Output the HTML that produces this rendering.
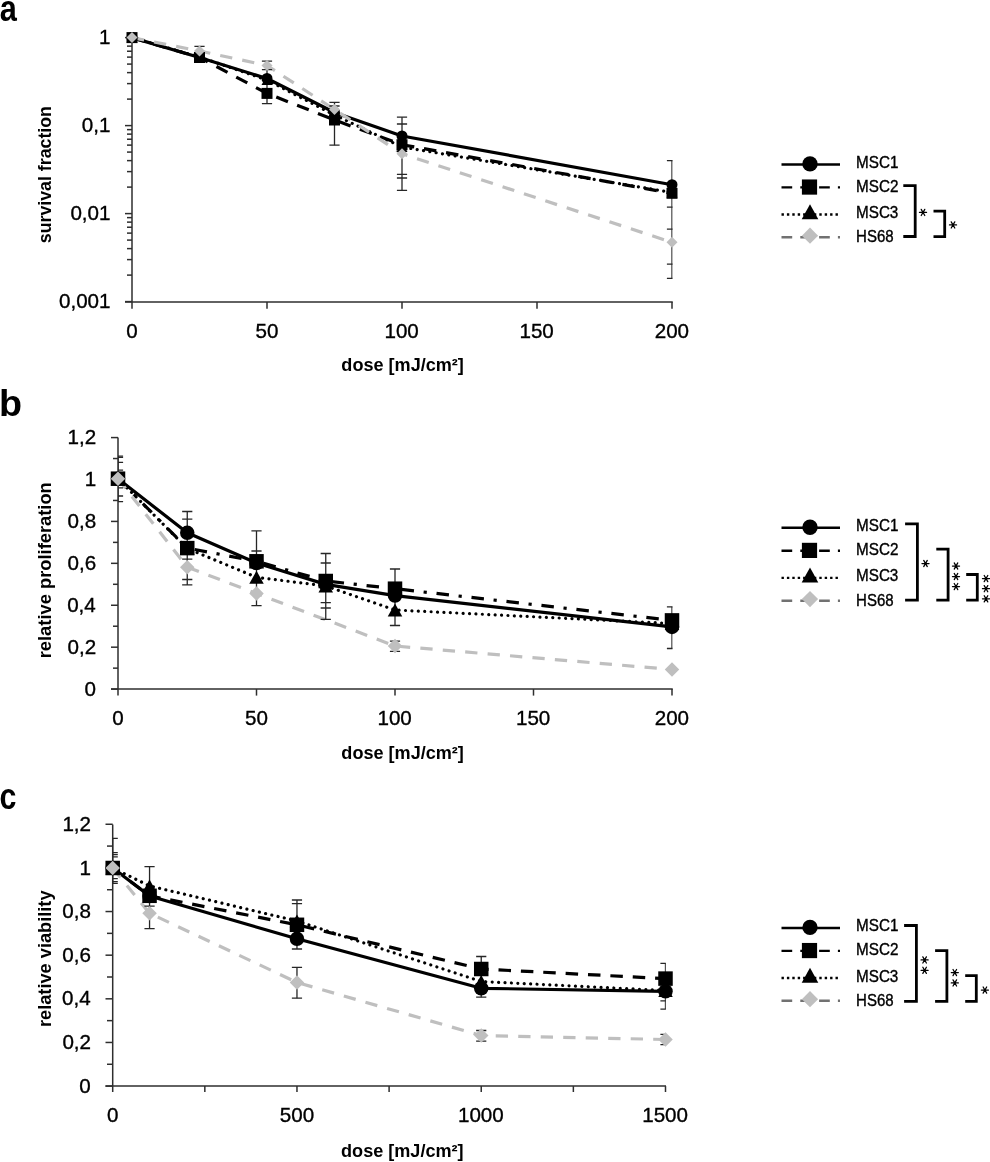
<!DOCTYPE html><html><head><meta charset="utf-8"><style>html,body{margin:0;padding:0;background:#fff;overflow:hidden;width:990px;height:1162px;}svg{display:block;filter:grayscale(1);}text{font-family:"Liberation Sans", sans-serif;}</style></head><body>
<svg width="990" height="1162" viewBox="0 0 990 1162">
<rect width="990" height="1162" fill="#fff"/>
<defs>
<clipPath id="ca"><rect x="132" y="0" width="540.5" height="303"/></clipPath>
<clipPath id="cb"><rect x="118" y="437" width="554.5" height="252"/></clipPath>
<clipPath id="cc"><rect x="112.7" y="824" width="553.1" height="262.5"/></clipPath>
</defs>
<text transform="translate(-0.30,20.60) scale(0.8158,1)" font-size="37.70" font-weight="bold" fill="#000">a</text>
<line x1="132.00" y1="37.60" x2="132.00" y2="308.80" stroke="#2e2e2e" stroke-width="1.5" />
<line x1="125.00" y1="302.00" x2="672.75" y2="302.00" stroke="#2e2e2e" stroke-width="1.5" />
<line x1="125.00" y1="37.60" x2="132.00" y2="37.60" stroke="#2e2e2e" stroke-width="1.5" />
<line x1="127.00" y1="99.11" x2="132.00" y2="99.11" stroke="#2e2e2e" stroke-width="1.5" />
<line x1="127.00" y1="83.61" x2="132.00" y2="83.61" stroke="#2e2e2e" stroke-width="1.5" />
<line x1="127.00" y1="72.62" x2="132.00" y2="72.62" stroke="#2e2e2e" stroke-width="1.5" />
<line x1="127.00" y1="64.09" x2="132.00" y2="64.09" stroke="#2e2e2e" stroke-width="1.5" />
<line x1="127.00" y1="57.12" x2="132.00" y2="57.12" stroke="#2e2e2e" stroke-width="1.5" />
<line x1="127.00" y1="51.23" x2="132.00" y2="51.23" stroke="#2e2e2e" stroke-width="1.5" />
<line x1="127.00" y1="46.13" x2="132.00" y2="46.13" stroke="#2e2e2e" stroke-width="1.5" />
<line x1="127.00" y1="41.63" x2="132.00" y2="41.63" stroke="#2e2e2e" stroke-width="1.5" />
<line x1="125.00" y1="125.60" x2="132.00" y2="125.60" stroke="#2e2e2e" stroke-width="1.5" />
<line x1="127.00" y1="187.11" x2="132.00" y2="187.11" stroke="#2e2e2e" stroke-width="1.5" />
<line x1="127.00" y1="171.61" x2="132.00" y2="171.61" stroke="#2e2e2e" stroke-width="1.5" />
<line x1="127.00" y1="160.62" x2="132.00" y2="160.62" stroke="#2e2e2e" stroke-width="1.5" />
<line x1="127.00" y1="152.09" x2="132.00" y2="152.09" stroke="#2e2e2e" stroke-width="1.5" />
<line x1="127.00" y1="145.12" x2="132.00" y2="145.12" stroke="#2e2e2e" stroke-width="1.5" />
<line x1="127.00" y1="139.23" x2="132.00" y2="139.23" stroke="#2e2e2e" stroke-width="1.5" />
<line x1="127.00" y1="134.13" x2="132.00" y2="134.13" stroke="#2e2e2e" stroke-width="1.5" />
<line x1="127.00" y1="129.63" x2="132.00" y2="129.63" stroke="#2e2e2e" stroke-width="1.5" />
<line x1="125.00" y1="213.60" x2="132.00" y2="213.60" stroke="#2e2e2e" stroke-width="1.5" />
<line x1="127.00" y1="275.11" x2="132.00" y2="275.11" stroke="#2e2e2e" stroke-width="1.5" />
<line x1="127.00" y1="259.61" x2="132.00" y2="259.61" stroke="#2e2e2e" stroke-width="1.5" />
<line x1="127.00" y1="248.62" x2="132.00" y2="248.62" stroke="#2e2e2e" stroke-width="1.5" />
<line x1="127.00" y1="240.09" x2="132.00" y2="240.09" stroke="#2e2e2e" stroke-width="1.5" />
<line x1="127.00" y1="233.12" x2="132.00" y2="233.12" stroke="#2e2e2e" stroke-width="1.5" />
<line x1="127.00" y1="227.23" x2="132.00" y2="227.23" stroke="#2e2e2e" stroke-width="1.5" />
<line x1="127.00" y1="222.13" x2="132.00" y2="222.13" stroke="#2e2e2e" stroke-width="1.5" />
<line x1="127.00" y1="217.63" x2="132.00" y2="217.63" stroke="#2e2e2e" stroke-width="1.5" />
<line x1="125.00" y1="301.60" x2="132.00" y2="301.60" stroke="#2e2e2e" stroke-width="1.5" />
<line x1="267.00" y1="302.00" x2="267.00" y2="308.80" stroke="#2e2e2e" stroke-width="1.5" />
<line x1="402.00" y1="302.00" x2="402.00" y2="308.80" stroke="#2e2e2e" stroke-width="1.5" />
<line x1="537.00" y1="302.00" x2="537.00" y2="308.80" stroke="#2e2e2e" stroke-width="1.5" />
<line x1="672.00" y1="302.00" x2="672.00" y2="308.80" stroke="#2e2e2e" stroke-width="1.5" />
<text transform="translate(99.05,44.20) scale(1.0000,1)" font-size="20.60" font-weight="normal" fill="#000" stroke="#000" stroke-width="0.35">1</text>
<text transform="translate(81.87,132.20) scale(1.0000,1)" font-size="20.60" font-weight="normal" fill="#000" stroke="#000" stroke-width="0.35">0,1</text>
<text transform="translate(70.41,220.20) scale(1.0000,1)" font-size="20.60" font-weight="normal" fill="#000" stroke="#000" stroke-width="0.35">0,01</text>
<text transform="translate(58.96,308.20) scale(1.0000,1)" font-size="20.60" font-weight="normal" fill="#000" stroke="#000" stroke-width="0.35">0,001</text>
<text transform="translate(126.27,338.10) scale(1.0000,1)" font-size="20.60" font-weight="normal" fill="#000" stroke="#000" stroke-width="0.35">0</text>
<text transform="translate(255.53,338.10) scale(1.0000,1)" font-size="20.60" font-weight="normal" fill="#000" stroke="#000" stroke-width="0.35">50</text>
<text transform="translate(384.43,338.10) scale(1.0000,1)" font-size="20.60" font-weight="normal" fill="#000" stroke="#000" stroke-width="0.35">100</text>
<text transform="translate(519.43,338.10) scale(1.0000,1)" font-size="20.60" font-weight="normal" fill="#000" stroke="#000" stroke-width="0.35">150</text>
<text transform="translate(654.70,338.10) scale(1.0000,1)" font-size="20.60" font-weight="normal" fill="#000" stroke="#000" stroke-width="0.35">200</text>
<text transform="translate(341.36,371.30) scale(0.9996,1)" font-size="18.10" font-weight="bold" fill="#000">dose [mJ/cm²]</text>
<text transform="translate(50.80,243.22) rotate(-90) scale(0.9821,1)" font-size="18.10" font-weight="bold">survival fraction</text>
<polyline points="132.00,37.60 199.50,57.50 267.00,78.50 334.50,112.50 402.00,136.00 672.00,184.70" fill="none" stroke="#000" stroke-width="3.2" stroke-linecap="butt" stroke-linejoin="round" />
<polyline points="132.00,37.60 199.50,57.50 267.00,93.40 334.50,120.00 402.00,144.70 672.00,193.30" fill="none" stroke="#000" stroke-width="3.2" stroke-linecap="butt" stroke-linejoin="round" stroke-dasharray="12.5 9.9" />
<polyline points="132.00,37.60 199.50,57.00 267.00,80.00 334.50,115.00 402.00,147.00 672.00,192.50" fill="none" stroke="#000" stroke-width="3.2" stroke-linecap="round" stroke-linejoin="round" stroke-dasharray="0.01 6.4" />
<polyline points="132.00,37.60 199.50,51.00 267.00,65.50 334.50,109.50 402.00,153.80 672.00,242.30" fill="none" stroke="#bfbfbf" stroke-width="3.2" stroke-linecap="butt" stroke-linejoin="round" stroke-dasharray="12.3 10.2" />
<g clip-path="url(#ca)">
<line x1="199.50" y1="46.30" x2="199.50" y2="56.00" stroke="#262626" stroke-width="1.3" />
<line x1="194.40" y1="46.30" x2="204.60" y2="46.30" stroke="#262626" stroke-width="1.3" />
</g>
<g clip-path="url(#ca)">
<line x1="267.00" y1="61.20" x2="267.00" y2="103.60" stroke="#262626" stroke-width="1.3" />
<line x1="261.90" y1="61.20" x2="272.10" y2="61.20" stroke="#262626" stroke-width="1.3" />
<line x1="261.90" y1="69.70" x2="272.10" y2="69.70" stroke="#262626" stroke-width="1.3" />
<line x1="261.90" y1="103.60" x2="272.10" y2="103.60" stroke="#262626" stroke-width="1.3" />
</g>
<g clip-path="url(#ca)">
<line x1="334.50" y1="102.40" x2="334.50" y2="145.20" stroke="#262626" stroke-width="1.3" />
<line x1="329.40" y1="102.40" x2="339.60" y2="102.40" stroke="#262626" stroke-width="1.3" />
<line x1="329.40" y1="106.00" x2="339.60" y2="106.00" stroke="#262626" stroke-width="1.3" />
<line x1="329.40" y1="145.20" x2="339.60" y2="145.20" stroke="#262626" stroke-width="1.3" />
</g>
<g clip-path="url(#ca)">
<line x1="402.00" y1="117.20" x2="402.00" y2="190.40" stroke="#262626" stroke-width="1.3" />
<line x1="396.90" y1="117.20" x2="407.10" y2="117.20" stroke="#262626" stroke-width="1.3" />
<line x1="396.90" y1="124.00" x2="407.10" y2="124.00" stroke="#262626" stroke-width="1.3" />
<line x1="396.90" y1="174.40" x2="407.10" y2="174.40" stroke="#262626" stroke-width="1.3" />
<line x1="396.90" y1="178.00" x2="407.10" y2="178.00" stroke="#262626" stroke-width="1.3" />
<line x1="396.90" y1="190.40" x2="407.10" y2="190.40" stroke="#262626" stroke-width="1.3" />
</g>
<g clip-path="url(#ca)">
<line x1="672.00" y1="160.60" x2="672.00" y2="278.30" stroke="#262626" stroke-width="1.3" />
<line x1="666.90" y1="160.60" x2="677.10" y2="160.60" stroke="#262626" stroke-width="1.3" />
<line x1="666.90" y1="207.20" x2="677.10" y2="207.20" stroke="#262626" stroke-width="1.3" />
<line x1="666.90" y1="229.20" x2="677.10" y2="229.20" stroke="#262626" stroke-width="1.3" />
<line x1="666.90" y1="264.20" x2="677.10" y2="264.20" stroke="#262626" stroke-width="1.3" />
<line x1="666.90" y1="278.30" x2="677.10" y2="278.30" stroke="#262626" stroke-width="1.3" />
</g>
<circle cx="132.00" cy="37.60" r="5.50" fill="#000"/>
<circle cx="199.50" cy="57.50" r="5.50" fill="#000"/>
<circle cx="267.00" cy="78.50" r="5.50" fill="#000"/>
<circle cx="334.50" cy="112.50" r="5.50" fill="#000"/>
<circle cx="402.00" cy="136.00" r="5.50" fill="#000"/>
<circle cx="672.00" cy="184.70" r="5.50" fill="#000"/>
<rect x="126.50" y="32.10" width="11.00" height="11.00" fill="#000"/>
<rect x="194.00" y="52.00" width="11.00" height="11.00" fill="#000"/>
<rect x="261.50" y="87.90" width="11.00" height="11.00" fill="#000"/>
<rect x="329.00" y="114.50" width="11.00" height="11.00" fill="#000"/>
<rect x="396.50" y="139.20" width="11.00" height="11.00" fill="#000"/>
<rect x="666.50" y="187.80" width="11.00" height="11.00" fill="#000"/>
<polygon points="132.00,32.65 137.50,42.55 126.50,42.55" fill="#000"/>
<polygon points="199.50,52.05 205.00,61.95 194.00,61.95" fill="#000"/>
<polygon points="267.00,75.05 272.50,84.95 261.50,84.95" fill="#000"/>
<polygon points="334.50,110.05 340.00,119.95 329.00,119.95" fill="#000"/>
<polygon points="402.00,142.05 407.50,151.95 396.50,151.95" fill="#000"/>
<polygon points="672.00,187.55 677.50,197.45 666.50,197.45" fill="#000"/>
<polygon points="132.00,32.10 137.50,37.60 132.00,43.10 126.50,37.60" fill="#bfbfbf"/>
<polygon points="199.50,45.50 205.00,51.00 199.50,56.50 194.00,51.00" fill="#bfbfbf"/>
<polygon points="267.00,60.00 272.50,65.50 267.00,71.00 261.50,65.50" fill="#bfbfbf"/>
<polygon points="334.50,104.00 340.00,109.50 334.50,115.00 329.00,109.50" fill="#bfbfbf"/>
<polygon points="402.00,148.30 407.50,153.80 402.00,159.30 396.50,153.80" fill="#bfbfbf"/>
<polygon points="672.00,236.80 677.50,242.30 672.00,247.80 666.50,242.30" fill="#bfbfbf"/>
<line x1="781.50" y1="164.45" x2="840.00" y2="164.45" stroke="#000" stroke-width="2.4" />
<circle cx="810.00" cy="163.90" r="7.70" fill="#000"/>
<text transform="translate(856.05,167.80) scale(0.9537,1)" font-size="16.00" font-weight="normal" fill="#000" stroke="#000" stroke-width="0.35">MSC1</text>
<line x1="781.50" y1="187.40" x2="840.00" y2="187.40" stroke="#000" stroke-width="2.4" stroke-dasharray="10.7 8.1"/>
<rect x="801.90" y="179.45" width="15.20" height="15.20" fill="#000"/>
<text transform="translate(856.05,191.90) scale(0.9543,1)" font-size="16.00" font-weight="normal" fill="#000" stroke="#000" stroke-width="0.35">MSC2</text>
<line x1="781.50" y1="214.50" x2="840.00" y2="214.50" stroke="#000" stroke-width="2.4" stroke-dasharray="2.4 3.0"/>
<polygon points="810,204.15 818.3,219.15 801.7,219.15" fill="#000"/>
<text transform="translate(856.05,218.00) scale(0.9520,1)" font-size="16.00" font-weight="normal" fill="#000" stroke="#000" stroke-width="0.35">MSC3</text>
<line x1="781.50" y1="237.30" x2="840.00" y2="237.30" stroke="#717171" stroke-width="2.5" stroke-dasharray="10.7 8.1"/>
<polygon points="810.00,227.60 818.10,235.70 810.00,243.80 801.90,235.70" fill="#bfbfbf"/>
<text transform="translate(856.07,242.40) scale(0.9391,1)" font-size="16.00" font-weight="normal" fill="#000" stroke="#000" stroke-width="0.35">HS68</text>
<polyline points="903.30,185.60 915.20,185.60 915.20,236.50 903.30,236.50" fill="none" stroke="#000" stroke-width="2.8" stroke-linejoin="miter"/>
<path d="M919.45,212.40L926.55,212.40M921.23,209.33L924.77,215.47M924.77,209.33L921.23,215.47" stroke="#000" stroke-width="1.25" stroke-linecap="round" fill="none"/>
<circle cx="923.00" cy="212.40" r="1.1" fill="#000"/>
<polyline points="933.50,211.10 944.70,211.10 944.70,236.60 933.50,236.60" fill="none" stroke="#000" stroke-width="2.8" stroke-linejoin="miter"/>
<path d="M949.45,224.90L956.55,224.90M951.23,221.83L954.77,227.97M954.77,221.83L951.23,227.97" stroke="#000" stroke-width="1.25" stroke-linecap="round" fill="none"/>
<circle cx="953.00" cy="224.90" r="1.1" fill="#000"/>
<text transform="translate(-1.09,415.50) scale(1.0274,1)" font-size="36.70" font-weight="bold" fill="#000">b</text>
<line x1="118.00" y1="437.60" x2="118.00" y2="695.60" stroke="#2e2e2e" stroke-width="1.5" />
<line x1="111.00" y1="689.10" x2="672.75" y2="689.10" stroke="#2e2e2e" stroke-width="1.5" />
<line x1="111.00" y1="689.10" x2="118.00" y2="689.10" stroke="#2e2e2e" stroke-width="1.5" />
<line x1="111.00" y1="647.18" x2="118.00" y2="647.18" stroke="#2e2e2e" stroke-width="1.5" />
<line x1="111.00" y1="605.26" x2="118.00" y2="605.26" stroke="#2e2e2e" stroke-width="1.5" />
<line x1="111.00" y1="563.34" x2="118.00" y2="563.34" stroke="#2e2e2e" stroke-width="1.5" />
<line x1="111.00" y1="521.42" x2="118.00" y2="521.42" stroke="#2e2e2e" stroke-width="1.5" />
<line x1="111.00" y1="479.50" x2="118.00" y2="479.50" stroke="#2e2e2e" stroke-width="1.5" />
<line x1="111.00" y1="437.58" x2="118.00" y2="437.58" stroke="#2e2e2e" stroke-width="1.5" />
<line x1="113.00" y1="668.14" x2="118.00" y2="668.14" stroke="#2e2e2e" stroke-width="1.5" />
<line x1="113.00" y1="626.22" x2="118.00" y2="626.22" stroke="#2e2e2e" stroke-width="1.5" />
<line x1="113.00" y1="584.30" x2="118.00" y2="584.30" stroke="#2e2e2e" stroke-width="1.5" />
<line x1="113.00" y1="542.38" x2="118.00" y2="542.38" stroke="#2e2e2e" stroke-width="1.5" />
<line x1="113.00" y1="500.46" x2="118.00" y2="500.46" stroke="#2e2e2e" stroke-width="1.5" />
<line x1="113.00" y1="458.54" x2="118.00" y2="458.54" stroke="#2e2e2e" stroke-width="1.5" />
<line x1="256.50" y1="689.10" x2="256.50" y2="695.60" stroke="#2e2e2e" stroke-width="1.5" />
<line x1="395.00" y1="689.10" x2="395.00" y2="695.60" stroke="#2e2e2e" stroke-width="1.5" />
<line x1="533.50" y1="689.10" x2="533.50" y2="695.60" stroke="#2e2e2e" stroke-width="1.5" />
<line x1="672.00" y1="689.10" x2="672.00" y2="695.60" stroke="#2e2e2e" stroke-width="1.5" />
<text transform="translate(67.60,443.98) scale(1.0000,1)" font-size="20.60" font-weight="normal" fill="#000" stroke="#000" stroke-width="0.35">1,2</text>
<text transform="translate(84.75,485.90) scale(1.0000,1)" font-size="20.60" font-weight="normal" fill="#000" stroke="#000" stroke-width="0.35">1</text>
<text transform="translate(67.46,527.82) scale(1.0000,1)" font-size="20.60" font-weight="normal" fill="#000" stroke="#000" stroke-width="0.35">0,8</text>
<text transform="translate(67.47,569.74) scale(1.0000,1)" font-size="20.60" font-weight="normal" fill="#000" stroke="#000" stroke-width="0.35">0,6</text>
<text transform="translate(67.17,611.66) scale(1.0000,1)" font-size="20.60" font-weight="normal" fill="#000" stroke="#000" stroke-width="0.35">0,4</text>
<text transform="translate(67.60,653.58) scale(1.0000,1)" font-size="20.60" font-weight="normal" fill="#000" stroke="#000" stroke-width="0.35">0,2</text>
<text transform="translate(84.55,695.50) scale(1.0000,1)" font-size="20.60" font-weight="normal" fill="#000" stroke="#000" stroke-width="0.35">0</text>
<text transform="translate(112.27,724.80) scale(1.0000,1)" font-size="20.60" font-weight="normal" fill="#000" stroke="#000" stroke-width="0.35">0</text>
<text transform="translate(245.03,724.80) scale(1.0000,1)" font-size="20.60" font-weight="normal" fill="#000" stroke="#000" stroke-width="0.35">50</text>
<text transform="translate(377.43,724.80) scale(1.0000,1)" font-size="20.60" font-weight="normal" fill="#000" stroke="#000" stroke-width="0.35">100</text>
<text transform="translate(515.93,724.80) scale(1.0000,1)" font-size="20.60" font-weight="normal" fill="#000" stroke="#000" stroke-width="0.35">150</text>
<text transform="translate(654.70,724.80) scale(1.0000,1)" font-size="20.60" font-weight="normal" fill="#000" stroke="#000" stroke-width="0.35">200</text>
<text transform="translate(341.36,758.90) scale(0.9996,1)" font-size="18.10" font-weight="bold" fill="#000">dose [mJ/cm²]</text>
<text transform="translate(51.10,658.31) rotate(-90) scale(1.0129,1)" font-size="18.10" font-weight="bold">relative proliferation</text>
<polyline points="118.00,478.70 187.25,532.80 256.50,563.00 325.75,584.40 395.00,595.60 672.00,626.90" fill="none" stroke="#000" stroke-width="3.2" stroke-linecap="butt" stroke-linejoin="round" />
<polyline points="118.00,478.70 187.25,548.10 256.50,561.30 325.75,581.00 395.00,588.70 672.00,620.40" fill="none" stroke="#000" stroke-width="3.2" stroke-linecap="butt" stroke-linejoin="round" stroke-dasharray="12.5 9.7 3.2 9.8" />
<polyline points="118.00,478.70 187.25,548.50 256.50,577.30 325.75,586.00 395.00,610.00 672.00,623.50" fill="none" stroke="#000" stroke-width="3.2" stroke-linecap="round" stroke-linejoin="round" stroke-dasharray="0.01 6.4" />
<polyline points="118.00,478.70 187.25,567.20 256.50,593.50 395.00,646.00 672.00,669.50" fill="none" stroke="#bfbfbf" stroke-width="3.2" stroke-linecap="butt" stroke-linejoin="round" stroke-dasharray="12.3 10.2" />
<g clip-path="url(#cb)">
<line x1="118.00" y1="456.20" x2="118.00" y2="501.60" stroke="#262626" stroke-width="1.3" />
<line x1="112.90" y1="456.20" x2="123.10" y2="456.20" stroke="#262626" stroke-width="1.3" />
<line x1="112.90" y1="457.40" x2="123.10" y2="457.40" stroke="#262626" stroke-width="1.3" />
<line x1="112.90" y1="462.30" x2="123.10" y2="462.30" stroke="#262626" stroke-width="1.3" />
<line x1="112.90" y1="470.10" x2="123.10" y2="470.10" stroke="#262626" stroke-width="1.3" />
<line x1="112.90" y1="487.90" x2="123.10" y2="487.90" stroke="#262626" stroke-width="1.3" />
<line x1="112.90" y1="496.00" x2="123.10" y2="496.00" stroke="#262626" stroke-width="1.3" />
<line x1="112.90" y1="501.60" x2="123.10" y2="501.60" stroke="#262626" stroke-width="1.3" />
</g>
<g clip-path="url(#cb)">
<line x1="187.25" y1="511.50" x2="187.25" y2="584.90" stroke="#262626" stroke-width="1.3" />
<line x1="182.15" y1="511.50" x2="192.35" y2="511.50" stroke="#262626" stroke-width="1.3" />
<line x1="182.15" y1="519.10" x2="192.35" y2="519.10" stroke="#262626" stroke-width="1.3" />
<line x1="182.15" y1="559.10" x2="192.35" y2="559.10" stroke="#262626" stroke-width="1.3" />
<line x1="182.15" y1="579.50" x2="192.35" y2="579.50" stroke="#262626" stroke-width="1.3" />
<line x1="182.15" y1="584.90" x2="192.35" y2="584.90" stroke="#262626" stroke-width="1.3" />
</g>
<g clip-path="url(#cb)">
<line x1="256.50" y1="530.90" x2="256.50" y2="605.60" stroke="#262626" stroke-width="1.3" />
<line x1="251.40" y1="530.90" x2="261.60" y2="530.90" stroke="#262626" stroke-width="1.3" />
<line x1="251.40" y1="551.00" x2="261.60" y2="551.00" stroke="#262626" stroke-width="1.3" />
<line x1="251.40" y1="605.60" x2="261.60" y2="605.60" stroke="#262626" stroke-width="1.3" />
</g>
<g clip-path="url(#cb)">
<line x1="325.75" y1="553.50" x2="325.75" y2="619.30" stroke="#262626" stroke-width="1.3" />
<line x1="320.65" y1="553.50" x2="330.85" y2="553.50" stroke="#262626" stroke-width="1.3" />
<line x1="320.65" y1="563.00" x2="330.85" y2="563.00" stroke="#262626" stroke-width="1.3" />
<line x1="320.65" y1="602.60" x2="330.85" y2="602.60" stroke="#262626" stroke-width="1.3" />
<line x1="320.65" y1="608.00" x2="330.85" y2="608.00" stroke="#262626" stroke-width="1.3" />
<line x1="320.65" y1="619.30" x2="330.85" y2="619.30" stroke="#262626" stroke-width="1.3" />
</g>
<g clip-path="url(#cb)">
<line x1="395.00" y1="569.00" x2="395.00" y2="625.50" stroke="#262626" stroke-width="1.3" />
<line x1="395.00" y1="641.10" x2="395.00" y2="651.40" stroke="#262626" stroke-width="1.3" />
<line x1="389.90" y1="569.00" x2="400.10" y2="569.00" stroke="#262626" stroke-width="1.3" />
<line x1="389.90" y1="625.50" x2="400.10" y2="625.50" stroke="#262626" stroke-width="1.3" />
<line x1="389.90" y1="641.10" x2="400.10" y2="641.10" stroke="#262626" stroke-width="1.3" />
<line x1="389.90" y1="651.40" x2="400.10" y2="651.40" stroke="#262626" stroke-width="1.3" />
</g>
<g clip-path="url(#cb)">
<line x1="672.00" y1="606.80" x2="672.00" y2="648.50" stroke="#262626" stroke-width="1.3" />
<line x1="666.90" y1="606.80" x2="677.10" y2="606.80" stroke="#262626" stroke-width="1.3" />
<line x1="666.90" y1="648.50" x2="677.10" y2="648.50" stroke="#262626" stroke-width="1.3" />
</g>
<circle cx="118.00" cy="478.70" r="7.25" fill="#000"/>
<circle cx="187.25" cy="532.80" r="7.25" fill="#000"/>
<circle cx="256.50" cy="563.00" r="7.25" fill="#000"/>
<circle cx="325.75" cy="584.40" r="7.25" fill="#000"/>
<circle cx="395.00" cy="595.60" r="7.25" fill="#000"/>
<circle cx="672.00" cy="626.90" r="7.25" fill="#000"/>
<rect x="110.75" y="471.45" width="14.50" height="14.50" fill="#000"/>
<rect x="180.00" y="540.85" width="14.50" height="14.50" fill="#000"/>
<rect x="249.25" y="554.05" width="14.50" height="14.50" fill="#000"/>
<rect x="318.50" y="573.75" width="14.50" height="14.50" fill="#000"/>
<rect x="387.75" y="581.45" width="14.50" height="14.50" fill="#000"/>
<rect x="664.75" y="613.15" width="14.50" height="14.50" fill="#000"/>
<polygon points="118.00,472.18 125.25,485.22 110.75,485.22" fill="#000"/>
<polygon points="187.25,541.98 194.50,555.02 180.00,555.02" fill="#000"/>
<polygon points="256.50,570.77 263.75,583.82 249.25,583.82" fill="#000"/>
<polygon points="325.75,579.48 333.00,592.52 318.50,592.52" fill="#000"/>
<polygon points="395.00,603.48 402.25,616.52 387.75,616.52" fill="#000"/>
<polygon points="672.00,616.98 679.25,630.02 664.75,630.02" fill="#000"/>
<polygon points="118.00,471.45 125.25,478.70 118.00,485.95 110.75,478.70" fill="#bfbfbf"/>
<polygon points="187.25,559.95 194.50,567.20 187.25,574.45 180.00,567.20" fill="#bfbfbf"/>
<polygon points="256.50,586.25 263.75,593.50 256.50,600.75 249.25,593.50" fill="#bfbfbf"/>
<polygon points="395.00,638.75 402.25,646.00 395.00,653.25 387.75,646.00" fill="#bfbfbf"/>
<polygon points="672.00,662.25 679.25,669.50 672.00,676.75 664.75,669.50" fill="#bfbfbf"/>
<line x1="781.50" y1="527.80" x2="840.00" y2="527.80" stroke="#000" stroke-width="2.4" />
<circle cx="810.00" cy="527.25" r="7.70" fill="#000"/>
<text transform="translate(856.05,531.15) scale(0.9537,1)" font-size="16.00" font-weight="normal" fill="#000" stroke="#000" stroke-width="0.35">MSC1</text>
<line x1="781.50" y1="550.75" x2="840.00" y2="550.75" stroke="#000" stroke-width="2.4" stroke-dasharray="10.7 8.1"/>
<rect x="801.90" y="542.80" width="15.20" height="15.20" fill="#000"/>
<text transform="translate(856.05,555.25) scale(0.9543,1)" font-size="16.00" font-weight="normal" fill="#000" stroke="#000" stroke-width="0.35">MSC2</text>
<line x1="781.50" y1="577.85" x2="840.00" y2="577.85" stroke="#000" stroke-width="2.4" stroke-dasharray="2.4 3.0"/>
<polygon points="810,567.50 818.3,582.50 801.7,582.50" fill="#000"/>
<text transform="translate(856.05,581.35) scale(0.9520,1)" font-size="16.00" font-weight="normal" fill="#000" stroke="#000" stroke-width="0.35">MSC3</text>
<line x1="781.50" y1="600.65" x2="840.00" y2="600.65" stroke="#717171" stroke-width="2.5" stroke-dasharray="10.7 8.1"/>
<polygon points="810.00,590.95 818.10,599.05 810.00,607.15 801.90,599.05" fill="#bfbfbf"/>
<text transform="translate(856.07,605.75) scale(0.9391,1)" font-size="16.00" font-weight="normal" fill="#000" stroke="#000" stroke-width="0.35">HS68</text>
<polyline points="905.10,523.90 917.40,523.90 917.40,600.20 905.10,600.20" fill="none" stroke="#000" stroke-width="2.8" stroke-linejoin="miter"/>
<path d="M921.95,563.50L929.05,563.50M923.73,560.43L927.27,566.57M927.27,560.43L923.73,566.57" stroke="#000" stroke-width="1.25" stroke-linecap="round" fill="none"/>
<circle cx="925.50" cy="563.50" r="1.1" fill="#000"/>
<polyline points="936.30,549.20 948.10,549.20 948.10,600.20 936.30,600.20" fill="none" stroke="#000" stroke-width="2.8" stroke-linejoin="miter"/>
<path d="M952.45,566.00L959.55,566.00M954.23,562.93L957.77,569.07M957.77,562.93L954.23,569.07" stroke="#000" stroke-width="1.25" stroke-linecap="round" fill="none"/>
<circle cx="956.00" cy="566.00" r="1.1" fill="#000"/>
<path d="M952.45,576.50L959.55,576.50M954.23,573.43L957.77,579.57M957.77,573.43L954.23,579.57" stroke="#000" stroke-width="1.25" stroke-linecap="round" fill="none"/>
<circle cx="956.00" cy="576.50" r="1.1" fill="#000"/>
<path d="M952.45,586.60L959.55,586.60M954.23,583.53L957.77,589.67M957.77,583.53L954.23,589.67" stroke="#000" stroke-width="1.25" stroke-linecap="round" fill="none"/>
<circle cx="956.00" cy="586.60" r="1.1" fill="#000"/>
<polyline points="966.20,574.50 977.30,574.50 977.30,600.20 966.20,600.20" fill="none" stroke="#000" stroke-width="2.8" stroke-linejoin="miter"/>
<path d="M982.45,578.60L989.55,578.60M984.23,575.53L987.77,581.67M987.77,575.53L984.23,581.67" stroke="#000" stroke-width="1.25" stroke-linecap="round" fill="none"/>
<circle cx="986.00" cy="578.60" r="1.1" fill="#000"/>
<path d="M982.45,588.70L989.55,588.70M984.23,585.63L987.77,591.77M987.77,585.63L984.23,591.77" stroke="#000" stroke-width="1.25" stroke-linecap="round" fill="none"/>
<circle cx="986.00" cy="588.70" r="1.1" fill="#000"/>
<path d="M982.45,598.80L989.55,598.80M984.23,595.73L987.77,601.87M987.77,595.73L984.23,601.87" stroke="#000" stroke-width="1.25" stroke-linecap="round" fill="none"/>
<circle cx="986.00" cy="598.80" r="1.1" fill="#000"/>
<text transform="translate(-0.49,809.40) scale(0.8112,1)" font-size="37.40" font-weight="bold" fill="#000">c</text>
<line x1="112.70" y1="824.50" x2="112.70" y2="1092.00" stroke="#2e2e2e" stroke-width="1.5" />
<line x1="105.50" y1="1086.10" x2="666.00" y2="1086.10" stroke="#2e2e2e" stroke-width="1.5" />
<line x1="105.50" y1="1086.10" x2="112.70" y2="1086.10" stroke="#2e2e2e" stroke-width="1.5" />
<line x1="105.50" y1="1042.46" x2="112.70" y2="1042.46" stroke="#2e2e2e" stroke-width="1.5" />
<line x1="105.50" y1="998.82" x2="112.70" y2="998.82" stroke="#2e2e2e" stroke-width="1.5" />
<line x1="105.50" y1="955.18" x2="112.70" y2="955.18" stroke="#2e2e2e" stroke-width="1.5" />
<line x1="105.50" y1="911.54" x2="112.70" y2="911.54" stroke="#2e2e2e" stroke-width="1.5" />
<line x1="105.50" y1="867.90" x2="112.70" y2="867.90" stroke="#2e2e2e" stroke-width="1.5" />
<line x1="105.50" y1="824.26" x2="112.70" y2="824.26" stroke="#2e2e2e" stroke-width="1.5" />
<line x1="107.00" y1="1064.28" x2="112.70" y2="1064.28" stroke="#2e2e2e" stroke-width="1.5" />
<line x1="107.00" y1="1020.64" x2="112.70" y2="1020.64" stroke="#2e2e2e" stroke-width="1.5" />
<line x1="107.00" y1="977.00" x2="112.70" y2="977.00" stroke="#2e2e2e" stroke-width="1.5" />
<line x1="107.00" y1="933.36" x2="112.70" y2="933.36" stroke="#2e2e2e" stroke-width="1.5" />
<line x1="107.00" y1="889.72" x2="112.70" y2="889.72" stroke="#2e2e2e" stroke-width="1.5" />
<line x1="107.00" y1="846.08" x2="112.70" y2="846.08" stroke="#2e2e2e" stroke-width="1.5" />
<line x1="204.83" y1="1086.10" x2="204.83" y2="1092.00" stroke="#2e2e2e" stroke-width="1.5" />
<line x1="296.97" y1="1086.10" x2="296.97" y2="1092.00" stroke="#2e2e2e" stroke-width="1.5" />
<line x1="389.10" y1="1086.10" x2="389.10" y2="1092.00" stroke="#2e2e2e" stroke-width="1.5" />
<line x1="481.23" y1="1086.10" x2="481.23" y2="1092.00" stroke="#2e2e2e" stroke-width="1.5" />
<line x1="573.36" y1="1086.10" x2="573.36" y2="1092.00" stroke="#2e2e2e" stroke-width="1.5" />
<line x1="665.50" y1="1086.10" x2="665.50" y2="1092.00" stroke="#2e2e2e" stroke-width="1.5" />
<text transform="translate(62.40,830.86) scale(1.0000,1)" font-size="20.60" font-weight="normal" fill="#000" stroke="#000" stroke-width="0.35">1,2</text>
<text transform="translate(79.55,874.50) scale(1.0000,1)" font-size="20.60" font-weight="normal" fill="#000" stroke="#000" stroke-width="0.35">1</text>
<text transform="translate(62.26,918.14) scale(1.0000,1)" font-size="20.60" font-weight="normal" fill="#000" stroke="#000" stroke-width="0.35">0,8</text>
<text transform="translate(62.27,961.78) scale(1.0000,1)" font-size="20.60" font-weight="normal" fill="#000" stroke="#000" stroke-width="0.35">0,6</text>
<text transform="translate(61.97,1005.42) scale(1.0000,1)" font-size="20.60" font-weight="normal" fill="#000" stroke="#000" stroke-width="0.35">0,4</text>
<text transform="translate(62.40,1049.06) scale(1.0000,1)" font-size="20.60" font-weight="normal" fill="#000" stroke="#000" stroke-width="0.35">0,2</text>
<text transform="translate(79.35,1092.70) scale(1.0000,1)" font-size="20.60" font-weight="normal" fill="#000" stroke="#000" stroke-width="0.35">0</text>
<text transform="translate(106.97,1122.20) scale(1.0000,1)" font-size="20.60" font-weight="normal" fill="#000" stroke="#000" stroke-width="0.35">0</text>
<text transform="translate(279.77,1122.20) scale(1.0000,1)" font-size="20.60" font-weight="normal" fill="#000" stroke="#000" stroke-width="0.35">500</text>
<text transform="translate(457.93,1122.20) scale(1.0000,1)" font-size="20.60" font-weight="normal" fill="#000" stroke="#000" stroke-width="0.35">1000</text>
<text transform="translate(642.20,1122.20) scale(1.0000,1)" font-size="20.60" font-weight="normal" fill="#000" stroke="#000" stroke-width="0.35">1500</text>
<text transform="translate(341.06,1157.10) scale(0.9996,1)" font-size="18.10" font-weight="bold" fill="#000">dose [mJ/cm²]</text>
<text transform="translate(51.20,1027.00) rotate(-90) scale(1.0057,1)" font-size="18.10" font-weight="bold">relative viability</text>
<polyline points="112.70,868.00 149.55,896.00 296.97,938.80 481.23,988.30 665.50,991.30" fill="none" stroke="#000" stroke-width="3.2" stroke-linecap="butt" stroke-linejoin="round" />
<polyline points="112.70,868.00 149.55,895.80 296.97,924.80 481.23,969.00 665.50,978.60" fill="none" stroke="#000" stroke-width="3.2" stroke-linecap="butt" stroke-linejoin="round" stroke-dasharray="12.5 9.9" />
<polyline points="112.70,868.00 149.55,885.90 296.97,921.00 481.23,981.50 665.50,990.50" fill="none" stroke="#000" stroke-width="3.2" stroke-linecap="round" stroke-linejoin="round" stroke-dasharray="0.01 6.4" />
<polyline points="112.70,868.00 149.55,913.30 296.97,982.40 481.23,1035.60 665.50,1039.50" fill="none" stroke="#bfbfbf" stroke-width="3.2" stroke-linecap="butt" stroke-linejoin="round" stroke-dasharray="12.3 10.2" />
<g clip-path="url(#cc)">
<line x1="112.70" y1="838.30" x2="112.70" y2="883.40" stroke="#262626" stroke-width="1.3" />
<line x1="107.60" y1="838.30" x2="117.80" y2="838.30" stroke="#262626" stroke-width="1.3" />
<line x1="107.60" y1="852.70" x2="117.80" y2="852.70" stroke="#262626" stroke-width="1.3" />
<line x1="107.60" y1="854.60" x2="117.80" y2="854.60" stroke="#262626" stroke-width="1.3" />
<line x1="107.60" y1="856.80" x2="117.80" y2="856.80" stroke="#262626" stroke-width="1.3" />
<line x1="107.60" y1="878.70" x2="117.80" y2="878.70" stroke="#262626" stroke-width="1.3" />
<line x1="107.60" y1="881.60" x2="117.80" y2="881.60" stroke="#262626" stroke-width="1.3" />
<line x1="107.60" y1="883.40" x2="117.80" y2="883.40" stroke="#262626" stroke-width="1.3" />
</g>
<g clip-path="url(#cc)">
<line x1="149.55" y1="866.70" x2="149.55" y2="928.60" stroke="#262626" stroke-width="1.3" />
<line x1="144.45" y1="866.70" x2="154.65" y2="866.70" stroke="#262626" stroke-width="1.3" />
<line x1="144.45" y1="906.10" x2="154.65" y2="906.10" stroke="#262626" stroke-width="1.3" />
<line x1="144.45" y1="928.60" x2="154.65" y2="928.60" stroke="#262626" stroke-width="1.3" />
</g>
<g clip-path="url(#cc)">
<line x1="296.97" y1="900.00" x2="296.97" y2="949.00" stroke="#262626" stroke-width="1.3" />
<line x1="296.97" y1="967.40" x2="296.97" y2="998.20" stroke="#262626" stroke-width="1.3" />
<line x1="291.87" y1="900.00" x2="302.07" y2="900.00" stroke="#262626" stroke-width="1.3" />
<line x1="291.87" y1="903.60" x2="302.07" y2="903.60" stroke="#262626" stroke-width="1.3" />
<line x1="291.87" y1="949.00" x2="302.07" y2="949.00" stroke="#262626" stroke-width="1.3" />
<line x1="291.87" y1="967.40" x2="302.07" y2="967.40" stroke="#262626" stroke-width="1.3" />
<line x1="291.87" y1="998.20" x2="302.07" y2="998.20" stroke="#262626" stroke-width="1.3" />
</g>
<g clip-path="url(#cc)">
<line x1="481.23" y1="956.50" x2="481.23" y2="997.20" stroke="#262626" stroke-width="1.3" />
<line x1="481.23" y1="1030.50" x2="481.23" y2="1041.20" stroke="#262626" stroke-width="1.3" />
<line x1="476.13" y1="956.50" x2="486.33" y2="956.50" stroke="#262626" stroke-width="1.3" />
<line x1="476.13" y1="997.20" x2="486.33" y2="997.20" stroke="#262626" stroke-width="1.3" />
<line x1="476.13" y1="1030.50" x2="486.33" y2="1030.50" stroke="#262626" stroke-width="1.3" />
<line x1="476.13" y1="1041.20" x2="486.33" y2="1041.20" stroke="#262626" stroke-width="1.3" />
</g>
<g clip-path="url(#cc)">
<line x1="665.50" y1="963.30" x2="665.50" y2="1009.20" stroke="#262626" stroke-width="1.3" />
<line x1="665.50" y1="1034.30" x2="665.50" y2="1044.70" stroke="#262626" stroke-width="1.3" />
<line x1="660.40" y1="963.30" x2="670.60" y2="963.30" stroke="#262626" stroke-width="1.3" />
<line x1="660.40" y1="1000.80" x2="670.60" y2="1000.80" stroke="#262626" stroke-width="1.3" />
<line x1="660.40" y1="1009.20" x2="670.60" y2="1009.20" stroke="#262626" stroke-width="1.3" />
<line x1="660.40" y1="1034.30" x2="670.60" y2="1034.30" stroke="#262626" stroke-width="1.3" />
<line x1="660.40" y1="1044.70" x2="670.60" y2="1044.70" stroke="#262626" stroke-width="1.3" />
</g>
<circle cx="112.70" cy="868.00" r="7.25" fill="#000"/>
<circle cx="149.55" cy="896.00" r="7.25" fill="#000"/>
<circle cx="296.97" cy="938.80" r="7.25" fill="#000"/>
<circle cx="481.23" cy="988.30" r="7.25" fill="#000"/>
<circle cx="665.50" cy="991.30" r="7.25" fill="#000"/>
<rect x="105.45" y="860.75" width="14.50" height="14.50" fill="#000"/>
<rect x="142.30" y="888.55" width="14.50" height="14.50" fill="#000"/>
<rect x="289.72" y="917.55" width="14.50" height="14.50" fill="#000"/>
<rect x="473.98" y="961.75" width="14.50" height="14.50" fill="#000"/>
<rect x="658.25" y="971.35" width="14.50" height="14.50" fill="#000"/>
<polygon points="112.70,861.48 119.95,874.52 105.45,874.52" fill="#000"/>
<polygon points="149.55,879.38 156.80,892.42 142.30,892.42" fill="#000"/>
<polygon points="296.97,914.48 304.22,927.52 289.72,927.52" fill="#000"/>
<polygon points="481.23,974.98 488.48,988.02 473.98,988.02" fill="#000"/>
<polygon points="665.50,983.98 672.75,997.02 658.25,997.02" fill="#000"/>
<polygon points="112.70,860.75 119.95,868.00 112.70,875.25 105.45,868.00" fill="#bfbfbf"/>
<polygon points="149.55,906.05 156.80,913.30 149.55,920.55 142.30,913.30" fill="#bfbfbf"/>
<polygon points="296.97,975.15 304.22,982.40 296.97,989.65 289.72,982.40" fill="#bfbfbf"/>
<polygon points="481.23,1028.35 488.48,1035.60 481.23,1042.85 473.98,1035.60" fill="#bfbfbf"/>
<polygon points="665.50,1032.25 672.75,1039.50 665.50,1046.75 658.25,1039.50" fill="#bfbfbf"/>
<line x1="781.50" y1="927.95" x2="840.00" y2="927.95" stroke="#000" stroke-width="2.4" />
<circle cx="810.00" cy="927.40" r="7.70" fill="#000"/>
<text transform="translate(856.05,931.30) scale(0.9537,1)" font-size="16.00" font-weight="normal" fill="#000" stroke="#000" stroke-width="0.35">MSC1</text>
<line x1="781.50" y1="950.90" x2="840.00" y2="950.90" stroke="#000" stroke-width="2.4" stroke-dasharray="10.7 8.1"/>
<rect x="801.90" y="942.95" width="15.20" height="15.20" fill="#000"/>
<text transform="translate(856.05,955.40) scale(0.9543,1)" font-size="16.00" font-weight="normal" fill="#000" stroke="#000" stroke-width="0.35">MSC2</text>
<line x1="781.50" y1="978.00" x2="840.00" y2="978.00" stroke="#000" stroke-width="2.4" stroke-dasharray="2.4 3.0"/>
<polygon points="810,967.65 818.3,982.65 801.7,982.65" fill="#000"/>
<text transform="translate(856.05,981.50) scale(0.9520,1)" font-size="16.00" font-weight="normal" fill="#000" stroke="#000" stroke-width="0.35">MSC3</text>
<line x1="781.50" y1="1000.80" x2="840.00" y2="1000.80" stroke="#717171" stroke-width="2.5" stroke-dasharray="10.7 8.1"/>
<polygon points="810.00,991.10 818.10,999.20 810.00,1007.30 801.90,999.20" fill="#bfbfbf"/>
<text transform="translate(856.07,1005.90) scale(0.9391,1)" font-size="16.00" font-weight="normal" fill="#000" stroke="#000" stroke-width="0.35">HS68</text>
<polyline points="904.10,925.50 916.40,925.50 916.40,1001.30 904.10,1001.30" fill="none" stroke="#000" stroke-width="2.8" stroke-linejoin="miter"/>
<path d="M921.05,959.90L928.15,959.90M922.83,956.83L926.38,962.97M926.38,956.83L922.83,962.97" stroke="#000" stroke-width="1.25" stroke-linecap="round" fill="none"/>
<circle cx="924.60" cy="959.90" r="1.1" fill="#000"/>
<path d="M921.05,970.30L928.15,970.30M922.83,967.23L926.38,973.37M926.38,967.23L922.83,973.37" stroke="#000" stroke-width="1.25" stroke-linecap="round" fill="none"/>
<circle cx="924.60" cy="970.30" r="1.1" fill="#000"/>
<polyline points="935.10,950.70 946.90,950.70 946.90,1001.30 935.10,1001.30" fill="none" stroke="#000" stroke-width="2.8" stroke-linejoin="miter"/>
<path d="M951.25,972.60L958.35,972.60M953.02,969.53L956.57,975.67M956.57,969.53L953.02,975.67" stroke="#000" stroke-width="1.25" stroke-linecap="round" fill="none"/>
<circle cx="954.80" cy="972.60" r="1.1" fill="#000"/>
<path d="M951.25,982.90L958.35,982.90M953.02,979.83L956.57,985.97M956.57,979.83L953.02,985.97" stroke="#000" stroke-width="1.25" stroke-linecap="round" fill="none"/>
<circle cx="954.80" cy="982.90" r="1.1" fill="#000"/>
<polyline points="965.20,975.60 976.30,975.60 976.30,1001.30 965.20,1001.30" fill="none" stroke="#000" stroke-width="2.8" stroke-linejoin="miter"/>
<path d="M981.35,990.10L988.45,990.10M983.12,987.03L986.67,993.17M986.67,987.03L983.12,993.17" stroke="#000" stroke-width="1.25" stroke-linecap="round" fill="none"/>
<circle cx="984.90" cy="990.10" r="1.1" fill="#000"/>
</svg></body></html>
